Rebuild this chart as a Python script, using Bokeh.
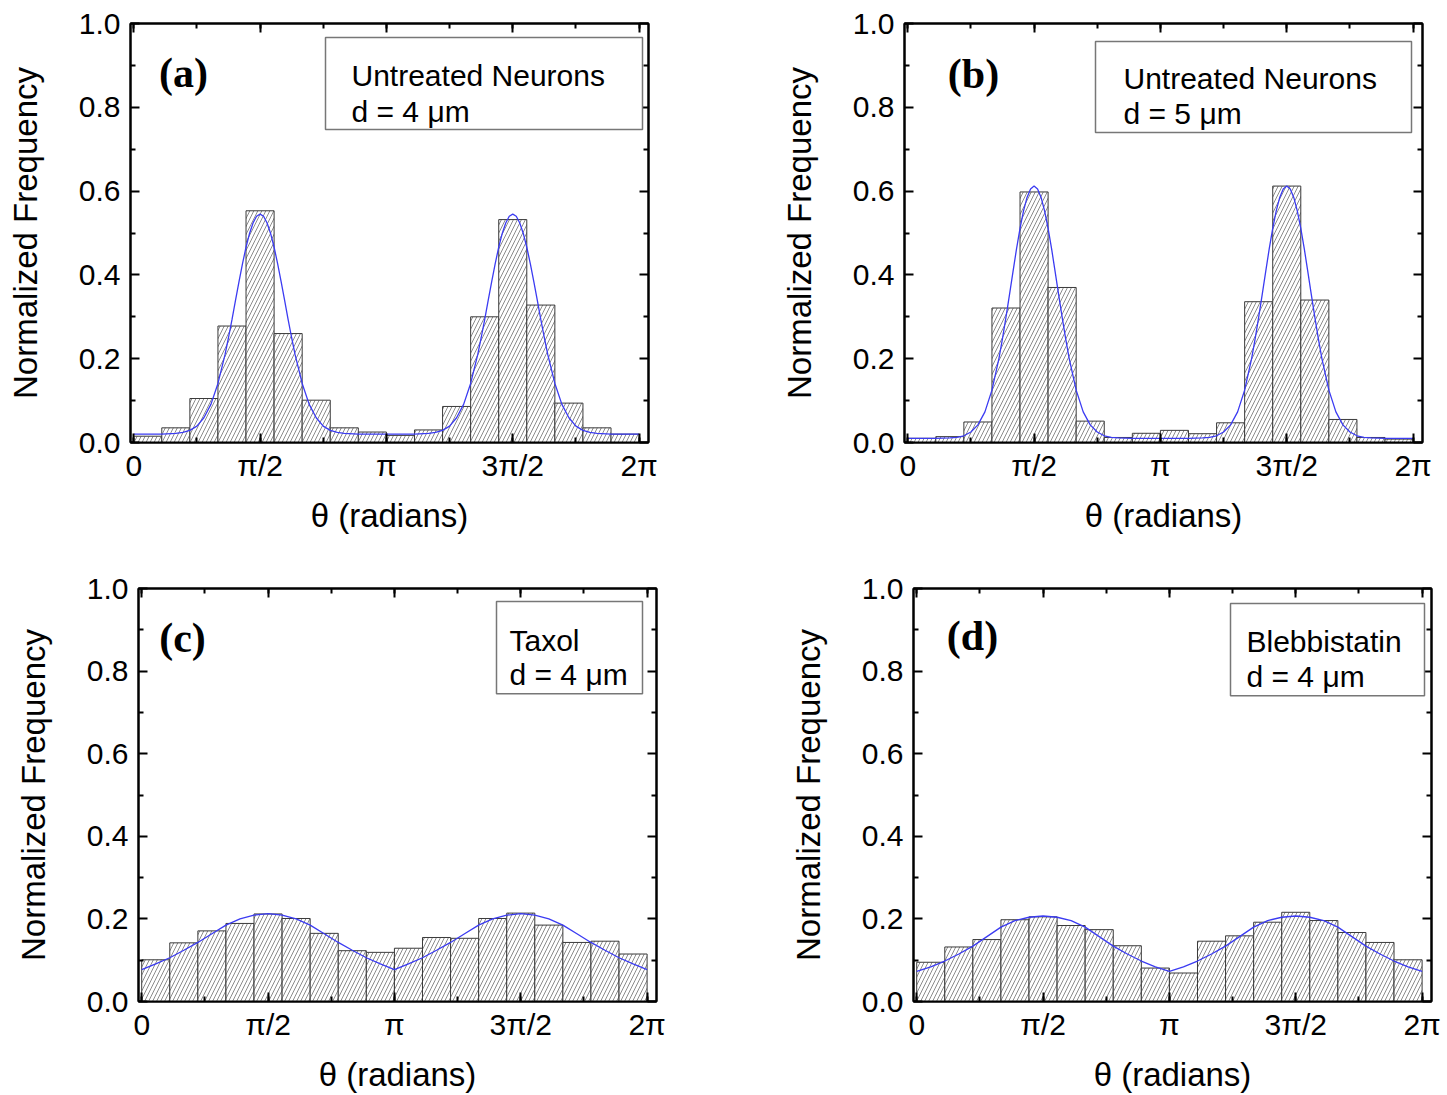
import math
import numpy as np
from bokeh.plotting import figure
from bokeh.layouts import column, row
from bokeh.models import (FixedTicker, CustomJSTickFormatter, PrintfTickFormatter,
                          LinearAxis, BoxAnnotation, Label, Range1d)
from bokeh.embed import file_html
from bokeh.resources import INLINE

# ---------------- data ----------------
BIN_EDGES_DEG = [0, 20, 40, 60, 80, 100, 120, 140, 160, 180,
                 200, 220, 240, 260, 280, 300, 320, 340, 360]

FREQ_A = [0.015, 0.035, 0.105, 0.278, 0.553, 0.260, 0.101, 0.035, 0.025,
          0.017, 0.030, 0.086, 0.300, 0.532, 0.328, 0.094, 0.035, 0.020]
FREQ_B = [0.010, 0.014, 0.049, 0.321, 0.598, 0.370, 0.051, 0.012, 0.022,
          0.029, 0.021, 0.047, 0.336, 0.612, 0.340, 0.055, 0.012, 0.008]
FREQ_C = [0.101, 0.142, 0.171, 0.189, 0.212, 0.201, 0.165, 0.123, 0.119,
          0.129, 0.155, 0.153, 0.201, 0.214, 0.185, 0.143, 0.146, 0.115]
FREQ_D = [0.095, 0.132, 0.150, 0.198, 0.205, 0.184, 0.174, 0.135, 0.081,
          0.069, 0.146, 0.159, 0.192, 0.216, 0.196, 0.167, 0.143, 0.101]

FIT_AB_DEG = [0, 20, 30, 35, 40, 45, 50, 55, 60, 65, 67.5, 70, 72.5, 75, 77.5, 80,
              82.5, 85, 87.5, 90, 92.5, 95, 97.5, 100, 102.5, 105, 107.5, 110,
              112.5, 115, 120, 125, 130, 135, 140, 145, 150, 160, 180, 200, 210,
              215, 220, 225, 230, 235, 240, 245, 247.5, 250, 252.5, 255, 257.5,
              260, 262.5, 265, 267.5, 270, 272.5, 275, 277.5, 280, 282.5, 285,
              287.5, 290, 292.5, 295, 300, 305, 310, 315, 320, 325, 330, 340, 360]
FIT_A = [0.020, 0.020, 0.022, 0.024, 0.029, 0.039, 0.059, 0.091, 0.141, 0.209,
         0.250, 0.293, 0.339, 0.384, 0.427, 0.466, 0.499, 0.524, 0.540, 0.545,
         0.540, 0.524, 0.499, 0.466, 0.427, 0.384, 0.339, 0.293, 0.250, 0.209,
         0.141, 0.091, 0.059, 0.039, 0.029, 0.024, 0.022, 0.020, 0.020, 0.020,
         0.022, 0.024, 0.029, 0.039, 0.059, 0.091, 0.141, 0.209, 0.250, 0.293,
         0.339, 0.384, 0.427, 0.466, 0.499, 0.524, 0.540, 0.545, 0.540, 0.524,
         0.499, 0.466, 0.427, 0.384, 0.339, 0.293, 0.250, 0.209, 0.141, 0.091,
         0.059, 0.039, 0.029, 0.024, 0.022, 0.020, 0.020]
FIT_B = [0.010, 0.010, 0.011, 0.012, 0.016, 0.025, 0.042, 0.073, 0.125, 0.201,
         0.248, 0.299, 0.353, 0.408, 0.462, 0.511, 0.553, 0.585, 0.605, 0.612,
         0.605, 0.585, 0.553, 0.511, 0.462, 0.408, 0.353, 0.299, 0.248, 0.201,
         0.125, 0.073, 0.042, 0.025, 0.016, 0.012, 0.011, 0.010, 0.010, 0.010,
         0.011, 0.012, 0.016, 0.025, 0.042, 0.073, 0.125, 0.201, 0.248, 0.299,
         0.353, 0.408, 0.462, 0.511, 0.553, 0.585, 0.605, 0.612, 0.605, 0.585,
         0.553, 0.511, 0.462, 0.408, 0.353, 0.299, 0.248, 0.201, 0.125, 0.073,
         0.042, 0.025, 0.016, 0.012, 0.011, 0.010, 0.010]

FIT_CD_DEG = [0, 10, 20, 30, 40, 50, 60, 70, 80, 90, 100, 110, 120, 130, 140, 150,
              160, 170, 180, 190, 200, 210, 220, 230, 240, 250, 260, 270, 280,
              290, 300, 310, 320, 330, 340, 350, 360]
FIT_C = [0.077, 0.091, 0.106, 0.124, 0.143, 0.164, 0.185, 0.200, 0.209, 0.213,
         0.209, 0.200, 0.185, 0.164, 0.143, 0.124, 0.106, 0.091, 0.077, 0.091,
         0.106, 0.124, 0.143, 0.164, 0.185, 0.200, 0.209, 0.213, 0.209, 0.200,
         0.185, 0.164, 0.143, 0.124, 0.106, 0.091, 0.077]
FIT_D = [0.073, 0.084, 0.098, 0.115, 0.134, 0.157, 0.180, 0.196, 0.204, 0.207,
         0.204, 0.196, 0.180, 0.157, 0.134, 0.115, 0.098, 0.084, 0.073, 0.084,
         0.098, 0.115, 0.134, 0.157, 0.180, 0.196, 0.204, 0.207, 0.204, 0.196,
         0.180, 0.157, 0.134, 0.115, 0.098, 0.084, 0.073]

XTICK_LABELS = ["0", "π/2", "π", "3π/2", "2π"]
YTICKS = [0.0, 0.2, 0.4, 0.6, 0.8, 1.0]
YMINOR = [0.1, 0.3, 0.5, 0.7, 0.9]

# ---------------- style ----------------
SANS = "Liberation Sans"
SERIF = "Liberation Serif"
X0, X1 = -0.04, 6.40
Y0, Y1 = 0.0, 1.0
FW = 518

XMAJ = [k * math.pi / 2 for k in range(5)]
XMIN = [k * math.pi / 4 for k in range(9)]


def style_axis(ax, major, minor):
    ax.ticker = FixedTicker(ticks=major, minor_ticks=minor)
    ax.axis_line_width = 2
    ax.axis_line_color = "black"
    ax.major_tick_in = 9
    ax.major_tick_out = 0
    ax.minor_tick_in = 5
    ax.minor_tick_out = 0
    ax.major_tick_line_width = 2
    ax.minor_tick_line_width = 2
    ax.major_tick_line_color = "black"
    ax.minor_tick_line_color = "black"


def mirror_axis(major, minor):
    ax = LinearAxis()
    style_axis(ax, major, minor)
    ax.major_label_text_font_size = "0px"
    ax.major_label_text_color = None
    ax.major_label_standoff = 0
    ax.formatter = CustomJSTickFormatter(code="return '';")
    return ax


def panel(width, height, bl, br, bt, bb, freq, fit_deg, fit_y, tag, tag_pos,
          box, lines, text_x, baselines):
    fh = height - bt - bb
    p = figure(width=width, height=height, output_backend="svg",
               toolbar_location=None, x_range=Range1d(X0, X1),
               y_range=Range1d(Y0, Y1), min_border_left=bl, min_border_right=br,
               min_border_top=bt, min_border_bottom=bb)
    p.grid.visible = False
    p.outline_line_color = "black"
    p.outline_line_width = 2
    p.background_fill_color = "white"
    p.border_fill_color = "white"

    def dx(rx):
        return X0 + rx / FW * (X1 - X0)

    def dy(ry):
        return Y1 - ry / fh * (Y1 - Y0)

    left = np.deg2rad(BIN_EDGES_DEG[:-1])
    right = np.deg2rad(BIN_EDGES_DEG[1:])
    p.quad(left=left, right=right, bottom=0, top=freq, fill_color="white",
           line_color="#3a3a3a", line_width=1, hatch_pattern="/",
           hatch_color="#8c8c8c", hatch_scale=8, hatch_weight=1)
    p.line(x=np.deg2rad(fit_deg), y=fit_y, line_color="#3b3bf2", line_width=1.3)

    xa = p.xaxis[0]
    style_axis(xa, XMAJ, XMIN)
    xa.formatter = CustomJSTickFormatter(
        args=dict(labels=XTICK_LABELS),
        code="const k = Math.round(tick / (Math.PI / 2)); return labels[k] ?? '';")
    xa.major_label_text_font = SANS
    xa.major_label_text_font_size = "30px"
    xa.major_label_text_color = "black"
    xa.major_label_standoff = 6
    xa.axis_label = "θ (radians)"
    xa.axis_label_text_font = SANS
    xa.axis_label_text_font_size = "33px"
    xa.axis_label_text_font_style = "normal"
    xa.axis_label_text_color = "black"
    xa.axis_label_standoff = 12

    ya = p.yaxis[0]
    style_axis(ya, YTICKS, YMINOR)
    ya.formatter = PrintfTickFormatter(format="%.1f")
    ya.major_label_text_font = SANS
    ya.major_label_text_font_size = "30px"
    ya.major_label_text_color = "black"
    ya.major_label_standoff = 10
    ya.axis_label = "Normalized Frequency"
    ya.axis_label_text_font = SANS
    ya.axis_label_text_font_size = "33px"
    ya.axis_label_text_font_style = "normal"
    ya.axis_label_text_color = "black"
    ya.axis_label_standoff = 32

    p.add_layout(mirror_axis(XMAJ, XMIN), "above")
    p.add_layout(mirror_axis(YTICKS, YMINOR), "right")

    bx0, bx1, by0, by1 = box
    p.add_layout(BoxAnnotation(left=dx(bx0), right=dx(bx1), top=dy(by0),
                               bottom=dy(by1), fill_color="white", fill_alpha=1.0,
                               line_color="#777777", line_width=1.5, line_alpha=1.0))
    for txt, bline in zip(lines, baselines):
        p.add_layout(Label(x=dx(text_x), y=dy(bline), text=txt, text_font=SANS,
                           text_font_size="30px", text_color="black",
                           text_align="left", text_baseline="alphabetic"))
    p.add_layout(Label(x=dx(tag_pos[0]), y=dy(tag_pos[1]), text=tag,
                       text_font=SERIF, text_font_style="bold",
                       text_font_size="42px", text_color="black",
                       text_align="center", text_baseline="middle"))
    return p


pa = panel(776, 540, 130, 128, 23, 98, FREQ_A, FIT_AB_DEG, FIT_A, "(a)", (53, 49),
           (195, 512, 14, 106), ["Untreated Neurons", "d = 4 μm"], 221, [52, 88])
pb = panel(671, 540, 128, 25, 23, 98, FREQ_B, FIT_AB_DEG, FIT_B, "(b)", (69, 50),
           (191, 507, 18, 109), ["Untreated Neurons", "d = 5 μm"], 219, [55, 90])
pc = panel(776, 555, 138, 120, 48, 91, FREQ_C, FIT_CD_DEG, FIT_C, "(c)", (44, 50),
           (358, 504, 13, 106), ["Taxol", "d = 4 μm"], 371, [52, 87])
pd_ = panel(671, 555, 137, 16, 48, 91, FREQ_D, FIT_CD_DEG, FIT_D, "(d)", (59, 48),
            (317, 511, 15, 108), ["Blebbistatin", "d = 4 μm"], 333, [53, 89])

layout = column(row(pa, pb), row(pc, pd_))

with open("out.html", "w") as f:
    f.write(file_html(layout, INLINE))
